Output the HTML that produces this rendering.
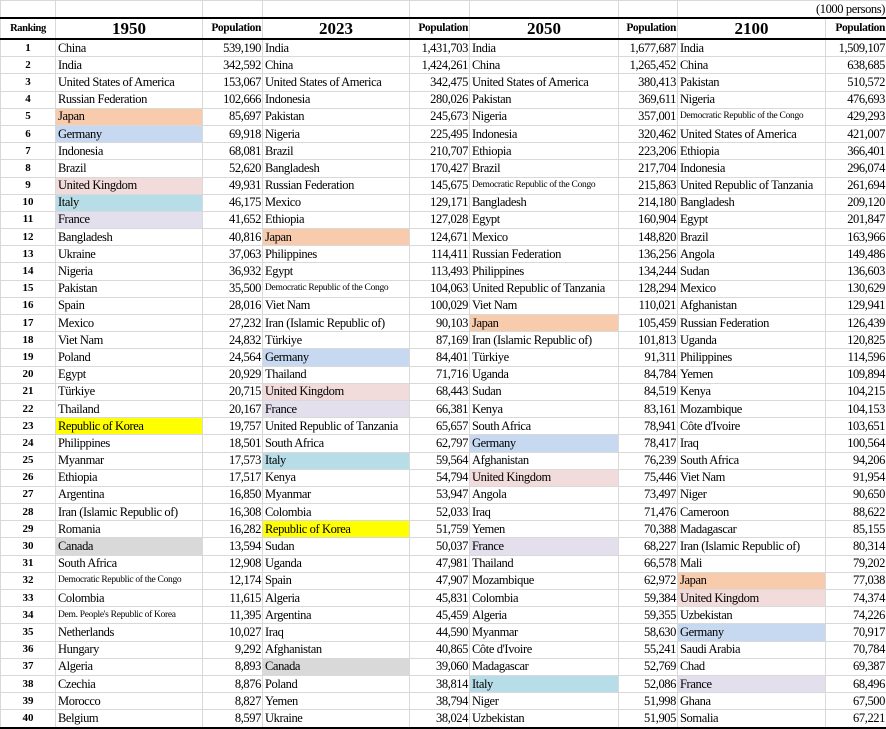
<!DOCTYPE html>
<html><head><meta charset="utf-8"><style>
body{margin:0;background:#fff;width:886px;height:728px;overflow:hidden}
table{position:absolute;left:0;top:0;border-collapse:collapse;table-layout:fixed;width:886px;font-family:"Liberation Serif",serif;font-size:12.5px;letter-spacing:-0.4px;color:#000}
td{border:1px solid #d9d9d9;padding:0 2px;white-space:nowrap;overflow:hidden;height:16.2px;line-height:15px}
td.r{text-align:center;font-weight:bold;font-size:11px;letter-spacing:0}
td.p{text-align:right;padding-right:1px}
td.s{font-size:9.5px;letter-spacing:-0.3px}
tr.top td{height:16px}
tr.h td{height:19px;border-top:2px solid #000;border-bottom:2px solid #000;font-weight:bold;font-size:11.5px}
tr.h td.y{font-size:17px;text-align:center;letter-spacing:0}
tr.h td.rk{font-size:10.5px;text-align:center}
tr:last-child td{border-bottom:2px solid #000}
td.b{border-left:1px solid #000}
.j{background:#f8cbad}.g{background:#c6d9f0}.u{background:#f2dcdb}.i{background:#b7dee8}.f{background:#e4dfec}.k{background:#ffff00}.c{background:#d9d9d9}
</style></head><body>
<table>
<colgroup><col style="width:55px"><col style="width:147px"><col style="width:60px"><col style="width:147px"><col style="width:60px"><col style="width:149px"><col style="width:59px"><col style="width:148px"><col style="width:61px"></colgroup>
<tr class="top"><td></td><td></td><td></td><td></td><td></td><td></td><td></td><td class="p" colspan="2">(1000 persons)</td></tr>
<tr class="h"><td class="rk">Ranking</td><td class="y">1950</td><td class="p">Population</td><td class="y b">2023</td><td class="p">Population</td><td class="y b">2050</td><td class="p">Population</td><td class="y b">2100</td><td class="p">Population</td></tr>
<tr><td class="r">1</td><td>China</td><td class="p">539,190</td><td class="b">India</td><td class="p">1,431,703</td><td class="b">India</td><td class="p">1,677,687</td><td class="b">India</td><td class="p">1,509,107</td></tr>
<tr><td class="r">2</td><td>India</td><td class="p">342,592</td><td class="b">China</td><td class="p">1,424,261</td><td class="b">China</td><td class="p">1,265,452</td><td class="b">China</td><td class="p">638,685</td></tr>
<tr><td class="r">3</td><td>United States of America</td><td class="p">153,067</td><td class="b">United States of America</td><td class="p">342,475</td><td class="b">United States of America</td><td class="p">380,413</td><td class="b">Pakistan</td><td class="p">510,572</td></tr>
<tr><td class="r">4</td><td>Russian Federation</td><td class="p">102,666</td><td class="b">Indonesia</td><td class="p">280,026</td><td class="b">Pakistan</td><td class="p">369,611</td><td class="b">Nigeria</td><td class="p">476,693</td></tr>
<tr><td class="r">5</td><td class="j">Japan</td><td class="p">85,697</td><td class="b">Pakistan</td><td class="p">245,673</td><td class="b">Nigeria</td><td class="p">357,001</td><td class="b s">Democratic Republic of the Congo</td><td class="p">429,293</td></tr>
<tr><td class="r">6</td><td class="g">Germany</td><td class="p">69,918</td><td class="b">Nigeria</td><td class="p">225,495</td><td class="b">Indonesia</td><td class="p">320,462</td><td class="b">United States of America</td><td class="p">421,007</td></tr>
<tr><td class="r">7</td><td>Indonesia</td><td class="p">68,081</td><td class="b">Brazil</td><td class="p">210,707</td><td class="b">Ethiopia</td><td class="p">223,206</td><td class="b">Ethiopia</td><td class="p">366,401</td></tr>
<tr><td class="r">8</td><td>Brazil</td><td class="p">52,620</td><td class="b">Bangladesh</td><td class="p">170,427</td><td class="b">Brazil</td><td class="p">217,704</td><td class="b">Indonesia</td><td class="p">296,074</td></tr>
<tr><td class="r">9</td><td class="u">United Kingdom</td><td class="p">49,931</td><td class="b">Russian Federation</td><td class="p">145,675</td><td class="b s">Democratic Republic of the Congo</td><td class="p">215,863</td><td class="b">United Republic of Tanzania</td><td class="p">261,694</td></tr>
<tr><td class="r">10</td><td class="i">Italy</td><td class="p">46,175</td><td class="b">Mexico</td><td class="p">129,171</td><td class="b">Bangladesh</td><td class="p">214,180</td><td class="b">Bangladesh</td><td class="p">209,120</td></tr>
<tr><td class="r">11</td><td class="f">France</td><td class="p">41,652</td><td class="b">Ethiopia</td><td class="p">127,028</td><td class="b">Egypt</td><td class="p">160,904</td><td class="b">Egypt</td><td class="p">201,847</td></tr>
<tr><td class="r">12</td><td>Bangladesh</td><td class="p">40,816</td><td class="b j">Japan</td><td class="p">124,671</td><td class="b">Mexico</td><td class="p">148,820</td><td class="b">Brazil</td><td class="p">163,966</td></tr>
<tr><td class="r">13</td><td>Ukraine</td><td class="p">37,063</td><td class="b">Philippines</td><td class="p">114,411</td><td class="b">Russian Federation</td><td class="p">136,256</td><td class="b">Angola</td><td class="p">149,486</td></tr>
<tr><td class="r">14</td><td>Nigeria</td><td class="p">36,932</td><td class="b">Egypt</td><td class="p">113,493</td><td class="b">Philippines</td><td class="p">134,244</td><td class="b">Sudan</td><td class="p">136,603</td></tr>
<tr><td class="r">15</td><td>Pakistan</td><td class="p">35,500</td><td class="b s">Democratic Republic of the Congo</td><td class="p">104,063</td><td class="b">United Republic of Tanzania</td><td class="p">128,294</td><td class="b">Mexico</td><td class="p">130,629</td></tr>
<tr><td class="r">16</td><td>Spain</td><td class="p">28,016</td><td class="b">Viet Nam</td><td class="p">100,029</td><td class="b">Viet Nam</td><td class="p">110,021</td><td class="b">Afghanistan</td><td class="p">129,941</td></tr>
<tr><td class="r">17</td><td>Mexico</td><td class="p">27,232</td><td class="b">Iran (Islamic Republic of)</td><td class="p">90,103</td><td class="b j">Japan</td><td class="p">105,459</td><td class="b">Russian Federation</td><td class="p">126,439</td></tr>
<tr><td class="r">18</td><td>Viet Nam</td><td class="p">24,832</td><td class="b">Türkiye</td><td class="p">87,169</td><td class="b">Iran (Islamic Republic of)</td><td class="p">101,813</td><td class="b">Uganda</td><td class="p">120,825</td></tr>
<tr><td class="r">19</td><td>Poland</td><td class="p">24,564</td><td class="b g">Germany</td><td class="p">84,401</td><td class="b">Türkiye</td><td class="p">91,311</td><td class="b">Philippines</td><td class="p">114,596</td></tr>
<tr><td class="r">20</td><td>Egypt</td><td class="p">20,929</td><td class="b">Thailand</td><td class="p">71,716</td><td class="b">Uganda</td><td class="p">84,784</td><td class="b">Yemen</td><td class="p">109,894</td></tr>
<tr><td class="r">21</td><td>Türkiye</td><td class="p">20,715</td><td class="b u">United Kingdom</td><td class="p">68,443</td><td class="b">Sudan</td><td class="p">84,519</td><td class="b">Kenya</td><td class="p">104,215</td></tr>
<tr><td class="r">22</td><td>Thailand</td><td class="p">20,167</td><td class="b f">France</td><td class="p">66,381</td><td class="b">Kenya</td><td class="p">83,161</td><td class="b">Mozambique</td><td class="p">104,153</td></tr>
<tr><td class="r">23</td><td class="k">Republic of Korea</td><td class="p">19,757</td><td class="b">United Republic of Tanzania</td><td class="p">65,657</td><td class="b">South Africa</td><td class="p">78,941</td><td class="b">Côte d'Ivoire</td><td class="p">103,651</td></tr>
<tr><td class="r">24</td><td>Philippines</td><td class="p">18,501</td><td class="b">South Africa</td><td class="p">62,797</td><td class="b g">Germany</td><td class="p">78,417</td><td class="b">Iraq</td><td class="p">100,564</td></tr>
<tr><td class="r">25</td><td>Myanmar</td><td class="p">17,573</td><td class="b i">Italy</td><td class="p">59,564</td><td class="b">Afghanistan</td><td class="p">76,239</td><td class="b">South Africa</td><td class="p">94,206</td></tr>
<tr><td class="r">26</td><td>Ethiopia</td><td class="p">17,517</td><td class="b">Kenya</td><td class="p">54,794</td><td class="b u">United Kingdom</td><td class="p">75,446</td><td class="b">Viet Nam</td><td class="p">91,954</td></tr>
<tr><td class="r">27</td><td>Argentina</td><td class="p">16,850</td><td class="b">Myanmar</td><td class="p">53,947</td><td class="b">Angola</td><td class="p">73,497</td><td class="b">Niger</td><td class="p">90,650</td></tr>
<tr><td class="r">28</td><td>Iran (Islamic Republic of)</td><td class="p">16,308</td><td class="b">Colombia</td><td class="p">52,033</td><td class="b">Iraq</td><td class="p">71,476</td><td class="b">Cameroon</td><td class="p">88,622</td></tr>
<tr><td class="r">29</td><td>Romania</td><td class="p">16,282</td><td class="b k">Republic of Korea</td><td class="p">51,759</td><td class="b">Yemen</td><td class="p">70,388</td><td class="b">Madagascar</td><td class="p">85,155</td></tr>
<tr><td class="r">30</td><td class="c">Canada</td><td class="p">13,594</td><td class="b">Sudan</td><td class="p">50,037</td><td class="b f">France</td><td class="p">68,227</td><td class="b">Iran (Islamic Republic of)</td><td class="p">80,314</td></tr>
<tr><td class="r">31</td><td>South Africa</td><td class="p">12,908</td><td class="b">Uganda</td><td class="p">47,981</td><td class="b">Thailand</td><td class="p">66,578</td><td class="b">Mali</td><td class="p">79,202</td></tr>
<tr><td class="r">32</td><td class="s">Democratic Republic of the Congo</td><td class="p">12,174</td><td class="b">Spain</td><td class="p">47,907</td><td class="b">Mozambique</td><td class="p">62,972</td><td class="b j">Japan</td><td class="p">77,038</td></tr>
<tr><td class="r">33</td><td>Colombia</td><td class="p">11,615</td><td class="b">Algeria</td><td class="p">45,831</td><td class="b">Colombia</td><td class="p">59,384</td><td class="b u">United Kingdom</td><td class="p">74,374</td></tr>
<tr><td class="r">34</td><td class="s">Dem. People's Republic of Korea</td><td class="p">11,395</td><td class="b">Argentina</td><td class="p">45,459</td><td class="b">Algeria</td><td class="p">59,355</td><td class="b">Uzbekistan</td><td class="p">74,226</td></tr>
<tr><td class="r">35</td><td>Netherlands</td><td class="p">10,027</td><td class="b">Iraq</td><td class="p">44,590</td><td class="b">Myanmar</td><td class="p">58,630</td><td class="b g">Germany</td><td class="p">70,917</td></tr>
<tr><td class="r">36</td><td>Hungary</td><td class="p">9,292</td><td class="b">Afghanistan</td><td class="p">40,865</td><td class="b">Côte d'Ivoire</td><td class="p">55,241</td><td class="b">Saudi Arabia</td><td class="p">70,784</td></tr>
<tr><td class="r">37</td><td>Algeria</td><td class="p">8,893</td><td class="b c">Canada</td><td class="p">39,060</td><td class="b">Madagascar</td><td class="p">52,769</td><td class="b">Chad</td><td class="p">69,387</td></tr>
<tr><td class="r">38</td><td>Czechia</td><td class="p">8,876</td><td class="b">Poland</td><td class="p">38,814</td><td class="b i">Italy</td><td class="p">52,086</td><td class="b f">France</td><td class="p">68,496</td></tr>
<tr><td class="r">39</td><td>Morocco</td><td class="p">8,827</td><td class="b">Yemen</td><td class="p">38,794</td><td class="b">Niger</td><td class="p">51,998</td><td class="b">Ghana</td><td class="p">67,500</td></tr>
<tr><td class="r">40</td><td>Belgium</td><td class="p">8,597</td><td class="b">Ukraine</td><td class="p">38,024</td><td class="b">Uzbekistan</td><td class="p">51,905</td><td class="b">Somalia</td><td class="p">67,221</td></tr>
</table>
</body></html>
